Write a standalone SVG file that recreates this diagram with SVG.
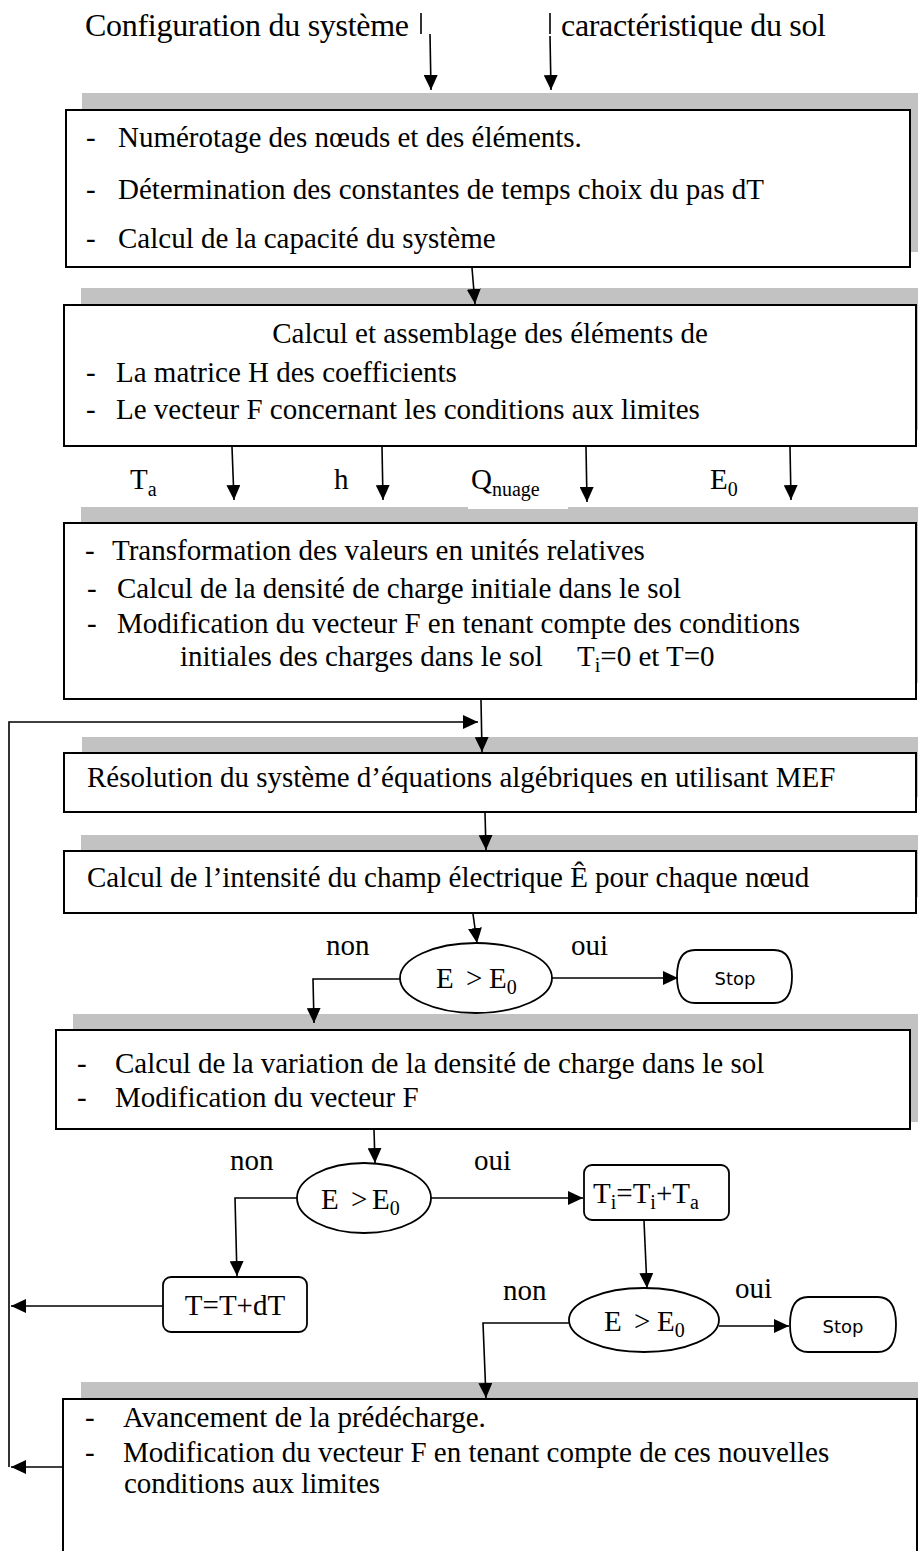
<svg xmlns="http://www.w3.org/2000/svg" width="918" height="1551" viewBox="0 0 918 1551">
<defs>
<marker id="ah" markerUnits="userSpaceOnUse" markerWidth="16" markerHeight="14" refX="15" refY="7" orient="auto">
<path d="M0,0 L15,7 L0,14 z" fill="#000"/>
</marker>
<style>
.t{font-family:"Liberation Serif","Times New Roman",serif;font-size:29px;fill:#000}
.top{font-family:"Liberation Serif","Times New Roman",serif;font-size:32px;fill:#000}
.s{font-family:"DejaVu Sans",sans-serif;font-size:18px;fill:#000}
.sub{font-size:20px}
.box{fill:#fff;stroke:#000;stroke-width:2}
.shade{fill:#c2c2c2}
.shape{fill:#fff;stroke:#000;stroke-width:1.8}
.c{fill:none;stroke:#000;stroke-width:1.6}
.a{fill:none;stroke:#000;stroke-width:1.6;marker-end:url(#ah)}
</style>
</defs>
<rect width="918" height="1551" fill="#fff"/>

<g id="inputs">
<text class="top" x="85" y="36" textLength="324">Configuration du système</text>
<text class="top" x="561" y="36" textLength="265">caractéristique du sol</text>
<line class="c" x1="421" y1="13" x2="421" y2="34"/>
<line class="c" x1="550" y1="13" x2="550" y2="34"/>
</g>

<g id="box1">
<rect class="shade" x="82" y="93" width="836" height="159"/>
<rect class="box" x="66" y="110" width="844" height="157"/>
<text class="t" x="86" y="147">-</text><text class="t" x="118" y="147">Numérotage des nœuds et des éléments.</text>
<text class="t" x="86" y="199">-</text><text class="t" x="118" y="199">Détermination des constantes de temps choix du pas dT</text>
<text class="t" x="86" y="248">-</text><text class="t" x="118" y="248">Calcul de la capacité du système</text>
</g>

<g id="box2">
<rect class="shade" x="81" y="288" width="837" height="142"/>
<rect class="box" x="64" y="305" width="852" height="141"/>
<text class="t" x="490" y="343" text-anchor="middle">Calcul et assemblage des éléments de</text>
<text class="t" x="86" y="382">-</text><text class="t" x="116" y="382">La matrice H des coefficients</text>
<text class="t" x="86" y="419">-</text><text class="t" x="116" y="419">Le vecteur F concernant les conditions aux limites</text>
</g>

<g id="params">
<text class="t" x="130" y="489">T<tspan class="sub" dy="7">a</tspan></text>
<text class="t" x="334" y="489">h</text>
<text class="t" x="471" y="489">Q<tspan class="sub" dy="7">nuage</tspan></text>
<text class="t" x="710" y="489">E<tspan class="sub" dy="7">0</tspan></text>
</g>

<g id="box3">
<rect class="shade" x="81" y="507" width="837" height="176"/>
<rect x="468" y="505" width="100" height="4" fill="#fff"/>
<rect class="box" x="64" y="523" width="852" height="176"/>
<text class="t" x="85" y="560">-</text><text class="t" x="112" y="560">Transformation des valeurs en unités relatives</text>
<text class="t" x="87" y="598">-</text><text class="t" x="117" y="598">Calcul de la densité de charge initiale dans le sol</text>
<text class="t" x="87" y="633">-</text><text class="t" x="117" y="633">Modification du vecteur F en tenant compte des conditions</text>
<text class="t" x="180" y="666">initiales des charges dans le sol</text>
<text class="t" x="577" y="666">T<tspan class="sub" dy="6">i</tspan><tspan dy="-6">=0 et T=0</tspan></text>
</g>

<g id="box4">
<rect class="shade" x="82" y="737" width="836" height="60"/>
<rect class="box" x="64" y="753" width="852" height="59"/>
<text class="t" x="87" y="787">Résolution du système d’équations algébriques en utilisant MEF</text>
</g>

<g id="box5">
<rect class="shade" x="81" y="835" width="837" height="62"/>
<rect class="box" x="64" y="851" width="852" height="62"/>
<text class="t" x="87" y="887">Calcul de l’intensité du champ électrique Ê pour chaque nœud</text>
</g>

<g id="test1">
<ellipse class="shape" cx="476" cy="978" rx="76" ry="35"/>
<text class="t" x="436" y="988">E<tspan x="466">&gt;</tspan><tspan x="489">E</tspan><tspan class="sub" dy="6">0</tspan></text>
<text class="t" x="326" y="955">non</text>
<text class="t" x="571" y="955">oui</text>
</g>

<g id="stop1">
<path class="shape" d="M695,950 H774 Q792,950 792,976.5 Q792,1003 774,1003 H695 Q677,1003 677,976.5 Q677,950 695,950 Z"/>
<text class="s" x="735" y="985" text-anchor="middle">Stop</text>
</g>

<g id="box6">
<rect class="shade" x="73" y="1014" width="845" height="108"/>
<rect class="box" x="56" y="1030" width="854" height="99"/>
<text class="t" x="77" y="1073">-</text><text class="t" x="115" y="1073">Calcul de la variation de la densité de charge dans le sol</text>
<text class="t" x="77" y="1107">-</text><text class="t" x="115" y="1107">Modification du vecteur F</text>
</g>

<g id="test2">
<ellipse class="shape" cx="364" cy="1198" rx="67" ry="35"/>
<text class="t" x="321" y="1209">E<tspan x="351">&gt;</tspan><tspan x="372">E</tspan><tspan class="sub" dy="6">0</tspan></text>
<text class="t" x="230" y="1170">non</text>
<text class="t" x="474" y="1170">oui</text>
</g>

<g id="incTi">
<rect class="shape" x="584" y="1165" width="145" height="55" rx="8"/>
<text class="t" x="593" y="1203">T<tspan class="sub" dy="6">i</tspan><tspan dy="-6">=T</tspan><tspan class="sub" dy="6">i</tspan><tspan dy="-6">+T</tspan><tspan class="sub" dy="6">a</tspan></text>
</g>

<g id="incT">
<rect class="shape" x="163" y="1277" width="144" height="55" rx="8"/>
<text class="t" x="235" y="1315" text-anchor="middle">T=T+dT</text>
</g>

<g id="test3">
<ellipse class="shape" cx="644" cy="1320" rx="75" ry="32"/>
<text class="t" x="604" y="1331">E<tspan x="634">&gt;</tspan><tspan x="657">E</tspan><tspan class="sub" dy="6">0</tspan></text>
<text class="t" x="503" y="1300">non</text>
<text class="t" x="735" y="1298">oui</text>
</g>

<g id="stop2">
<path class="shape" d="M808,1297 H878 Q896,1297 896,1324.5 Q896,1352 878,1352 H808 Q790,1352 790,1324.5 Q790,1297 808,1297 Z"/>
<text class="s" x="843" y="1333" text-anchor="middle">Stop</text>
</g>

<g id="box7">
<rect class="shade" x="81" y="1382" width="837" height="40"/>
<rect class="box" x="63" y="1399" width="854" height="170"/>
<text class="t" x="85" y="1427">-</text><text class="t" x="123" y="1427">Avancement de la prédécharge.</text>
<text class="t" x="85" y="1462">-</text><text class="t" x="123" y="1462">Modification du vecteur F en tenant compte de ces nouvelles</text>
<text class="t" x="124" y="1493">conditions aux limites</text>
</g>

<g id="connectors">
<line class="a" x1="430" y1="34" x2="431" y2="90"/>
<line class="a" x1="550" y1="36" x2="551" y2="90"/>
<line class="a" x1="472" y1="268" x2="475" y2="304"/>
<line class="a" x1="232" y1="447" x2="234" y2="500"/>
<line class="a" x1="382" y1="447" x2="383" y2="500"/>
<line class="a" x1="586" y1="447" x2="587" y2="502"/>
<line class="a" x1="790" y1="447" x2="791" y2="500"/>
<line class="a" x1="481" y1="700" x2="482" y2="752"/>
<path class="a" d="M9,1467 V722 H478"/>
<line class="a" x1="485" y1="813" x2="486" y2="850"/>
<line class="a" x1="473" y1="914" x2="477" y2="943"/>
<line class="a" x1="552" y1="978" x2="678" y2="978"/>
<path class="a" d="M400,979 H313 L314,1023"/>
<line class="a" x1="374" y1="1130" x2="375" y2="1163"/>
<line class="a" x1="431" y1="1198" x2="583" y2="1198"/>
<path class="a" d="M297,1198 H235 L237,1276"/>
<line class="a" x1="163" y1="1306" x2="11" y2="1306"/>
<line class="a" x1="644" y1="1221" x2="647" y2="1288"/>
<line class="a" x1="719" y1="1326" x2="789" y2="1326"/>
<path class="a" d="M569,1323 H483 L486,1398"/>
<line class="a" x1="63" y1="1467" x2="11" y2="1467"/>
</g>
</svg>
